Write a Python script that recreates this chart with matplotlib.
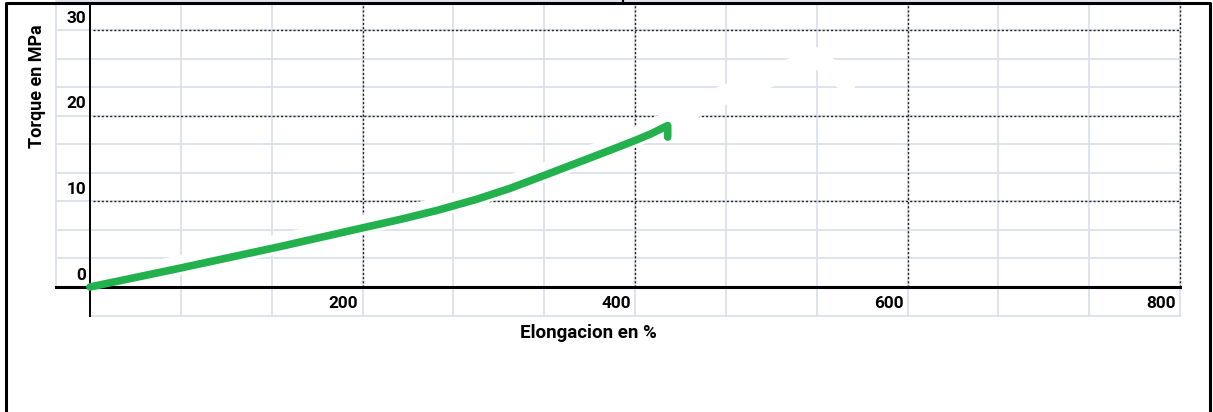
import matplotlib.pyplot as plt
import numpy as np
from matplotlib import transforms
from matplotlib.lines import Line2D

# curva dibujada a mano (verde)
elongacion = [0, 66, 139, 200, 228, 255, 284, 308, 333, 356, 379, 400, 412, 424, 424]
torque = [0, 2.2, 4.7, 6.9, 7.9, 8.95, 10.25, 11.5, 13.0, 14.4, 15.8, 17.1, 17.9, 18.85, 17.5]

# trazo original borrado con blanco (deja huecos en la cuadricula)
borrado_x = [0, 66, 139, 200, 255, 284, 333, 379, 400, 436, 467, 486, 533, 555]
borrado_y = [0, 2.2, 4.7, 6.9, 8.95, 10.25, 13.0, 15.8, 17.1, 19.95, 22.2, 23.2, 26.5, 23.5]

x_ticks = [200, 400, 600, 800]
y_ticks = [0, 10, 20, 30]

W, H = 1213, 412
fig = plt.figure(figsize=(W / 100, H / 100), dpi=100)
ax = fig.add_axes([90 / W, 125 / H, 1090 / W, 257 / H])
ax.set_xlim(0, 800)
ax.set_ylim(0, 30)
ax.axis('off')

fuente = dict(family='Roboto', fontweight='bold', color='black', zorder=10)
gris = '#d8dee9'
top = 33.2

# cuadricula de la hoja de calculo
ax.plot([-25, -25], [0, top], color=gris, lw=1.2, clip_on=False, zorder=1)
for x in np.arange(0, 801, 200 / 3):
    ax.plot([x, x], [-10 / 3, top], color=gris, lw=1.2, clip_on=False, zorder=1)
for y in np.arange(-10 / 3, 34, 10 / 3):
    x_ini = 0 if y < 0 else -25
    ax.plot([x_ini, 800], [y, y], color=gris, lw=1.2, clip_on=False, zorder=1)

# lineas punteadas principales
for y in y_ticks[1:]:
    ax.plot([2, 800], [y, y], color='#222222', lw=1, ls=(0, (1.5, 1.5)), clip_on=False, zorder=3)
for x in x_ticks:
    ax.plot([x, x], [0, top], color='#222222', lw=1, ls=(0, (1.5, 1.5)), clip_on=False, zorder=3)

# borrado blanco
desplazado = transforms.offset_copy(ax.transData, fig=fig, x=0, y=3, units='dots')
ax.plot(borrado_x, borrado_y, color='white', lw=14, solid_capstyle='round',
        solid_joinstyle='round', transform=desplazado, clip_on=False, zorder=4)

# ejes
ax.plot([0, 0], [-10 / 3, top], color='black', lw=1.4, clip_on=False, zorder=5)
ax.plot([-25, 800], [0, 0], color='black', lw=2.2, clip_on=False, zorder=5)

# curva verde
ax.plot(elongacion, torque, color='#22b14c', lw=5.5, solid_capstyle='round',
        solid_joinstyle='round', clip_on=False, zorder=6)

# etiquetas
for v in y_ticks:
    ax.text(-2.9, v + 1.4, str(v), ha='right', va='center', fontsize=12.4, **fuente)
for v in x_ticks:
    ax.text(v - 3, -1.98, str(v), ha='right', va='center', fontsize=12.4, **fuente)

ax.text(365.9, -5.37, 'Elongacion en %', ha='center', va='center', fontsize=13.5, **fuente)
ax.text(-38.9, 23.4, 'Torque en MPa', ha='center', va='center', rotation=90, fontsize=13, **fuente)

# marco exterior
fig.add_artist(Line2D([6 / W, 6 / W, 1210 / W, 1210 / W], [0, 1 - 2.8 / H, 1 - 2.8 / H, 0],
                      transform=fig.transFigure, color='black', lw=2.2))
fig.add_artist(Line2D([623 / W, 623 / W], [1 - 2.8 / H, 1],
                      transform=fig.transFigure, color='black', lw=1.5))

fig.savefig('out.png', dpi=100)
